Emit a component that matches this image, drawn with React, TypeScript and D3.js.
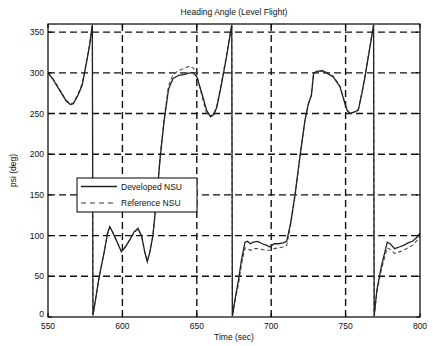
import React from "react";
import * as d3 from "d3";

const times = [
  550, 553, 556, 559, 562, 565, 567, 570, 573, 576, 578, 579.8,
  580.2, 582, 584, 586, 588, 590, 591.5, 593.5, 596, 599.3, 602, 605, 608, 610.5, 613, 615, 616.7, 618.5, 620.5, 623, 625.5, 628, 631, 634, 638, 642, 645, 647.6, 650, 653, 656.6, 659.3, 661.5, 663.5, 666.7, 670, 673.5,
  673.9, 676, 678, 680, 682.4, 684, 686, 688, 691, 694, 697, 699.2, 702, 705, 708, 710.4, 713, 716, 719.3, 722.7, 725, 727, 728.5, 731, 735, 738, 741.7, 744, 746.2, 748, 749.6, 751, 753, 756, 758.5, 761, 763, 766.4, 768.8,
  769.2, 771, 774, 778, 780, 783, 786, 789, 792, 795, 798, 800,
];

const developed = [
  300, 293, 284, 275, 266, 261, 262, 272, 285, 314, 334, 359,
  2, 22, 45, 64, 82, 103, 111, 104, 94, 80, 86, 95, 105, 109, 99, 80, 68, 80, 100, 145, 198, 240, 280, 293, 297, 298, 300, 300, 295, 277, 254, 246, 249, 258, 287, 320, 359,
  1, 25, 45, 70, 92, 93, 90, 92, 93, 90, 88, 86, 90, 90, 91, 93, 115, 150, 197, 242, 262, 272, 299, 302, 302, 299, 295, 289, 283, 272, 262, 254, 250, 252, 254, 275, 295, 332, 359,
  1, 33, 62, 92, 90, 84, 86, 88, 91, 93, 98, 103,
];

const reference = [
  300, 294, 285, 276, 267, 262, 263, 273, 287, 315, 336, 359,
  2, 22, 45, 64, 82, 102, 110, 104, 94, 81, 86, 95, 104, 108, 99, 80, 69, 80, 100, 146, 200, 243, 284, 298, 303, 306, 308, 306, 298, 275, 250, 247, 250, 260, 289, 322, 359,
  1, 22, 40, 64, 85, 84, 82, 84, 84, 83, 82, 82, 84, 85, 86, 88, 112, 148, 196, 242, 262, 273, 300, 302, 303, 300, 296, 290, 284, 272, 262, 254, 250, 252, 255, 276, 296, 333, 359,
  1, 30, 58, 85, 83, 78, 80, 82, 85, 88, 94, 100,
];

const xTicks = [550, 600, 650, 700, 750, 800];
const yTicks = [0, 50, 100, 150, 200, 250, 300, 350];

const W = 433;
const H = 346;
const L = 48, R = 420, T = 24, B = 317;
const FONT = "'Liberation Sans', Arial, sans-serif";

export default function App() {
  const x = d3.scaleLinear().domain([550, 800]).range([L, R]);
  const y = d3.scaleLinear().domain([0, 360]).range([B, T]);

  const line = d3
    .line<number>()
    .x((_, i) => x(times[i]))
    .y((v) => y(v));

  const gridX = xTicks.filter((t) => t > 550 && t < 800);
  const gridY = yTicks.filter((t) => t > 0);

  return (
    <svg
      width={W}
      height={H}
      style={{ position: "absolute", left: 0, top: 0, background: "#fff" }}
      fontFamily={FONT}
    >
      <rect x={0} y={0} width={W} height={H} fill="#fff" />
      <defs>
        <clipPath id="plot">
          <rect x={L} y={T} width={R - L} height={B - T} />
        </clipPath>
      </defs>
      {gridX.map((t) => (
        <line
          key={"gx" + t}
          x1={x(t)}
          x2={x(t)}
          y1={T}
          y2={B}
          stroke="#111"
          strokeWidth={1.4}
          strokeDasharray="7,4"
        />
      ))}
      {gridY.map((t) => (
        <line
          key={"gy" + t}
          x1={L}
          x2={R}
          y1={y(t)}
          y2={y(t)}
          stroke="#111"
          strokeWidth={1.4}
          strokeDasharray="7,4"
        />
      ))}
      <g clipPath="url(#plot)">
        <path
          d={line(reference) || ""}
          fill="none"
          stroke="#555"
          strokeWidth={1.1}
          strokeDasharray="4,2.5"
        />
        <path d={line(developed) || ""} fill="none" stroke="#222" strokeWidth={1.3} />
      </g>
      <rect x={L} y={T} width={R - L} height={B - T} fill="none" stroke="#000" strokeWidth={1.2} />
      {xTicks.map((t) => (
        <g key={"xt" + t}>
          <line x1={x(t)} x2={x(t)} y1={B} y2={B - 4} stroke="#000" />
          <line x1={x(t)} x2={x(t)} y1={T} y2={T + 4} stroke="#000" />
          <text x={x(t)} y={329} fontSize={8.5} textAnchor="middle" fill="#111">
            {t}
          </text>
        </g>
      ))}
      {yTicks.map((t) => (
        <g key={"yt" + t}>
          <line x1={L} x2={L + 4} y1={y(t)} y2={y(t)} stroke="#000" />
          <line x1={R} x2={R - 4} y1={y(t)} y2={y(t)} stroke="#000" />
          <text x={44} y={y(t) + (t === 0 ? 0 : 3)} fontSize={8.5} textAnchor="end" fill="#111">
            {t}
          </text>
        </g>
      ))}
      <text x={234} y={15} fontSize={8.5} textAnchor="middle" fill="#111">
        Heading Angle (Level Flight)
      </text>
      <text x={234} y={340} fontSize={8.5} textAnchor="middle" fill="#111">
        Time (sec)
      </text>
      <text
        transform={`translate(16,${(T + B) / 2}) rotate(-90)`}
        fontSize={8.5}
        textAnchor="middle"
        fill="#111"
      >
        psi (deg)
      </text>
      <g>
        <rect x={77} y={178} width={120} height={34} fill="#fff" stroke="#000" strokeWidth={1} />
        <line x1={81} x2={117} y1={186.5} y2={186.5} stroke="#222" strokeWidth={1.3} />
        <text x={121} y={189.5} fontSize={8.5} fill="#111">
          Developed NSU
        </text>
        <line
          x1={81}
          x2={117}
          y1={203}
          y2={203}
          stroke="#333"
          strokeWidth={1.2}
          strokeDasharray="5,4"
        />
        <text x={121} y={206} fontSize={8.5} fill="#111">
          Reference NSU
        </text>
      </g>
    </svg>
  );
}
